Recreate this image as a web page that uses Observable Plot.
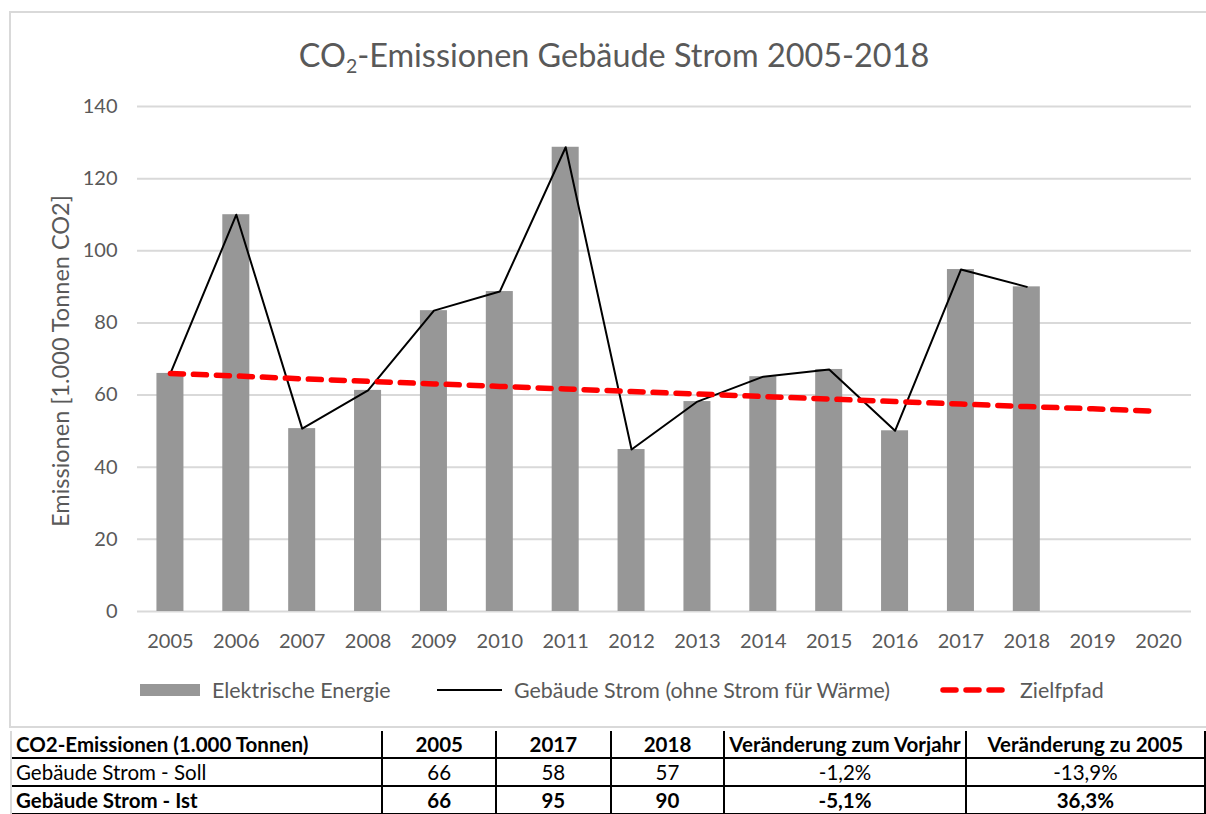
<!DOCTYPE html>
<html>
<head>
<meta charset="utf-8">
<script src="https://cdn.jsdelivr.net/npm/d3@7"></script>
<script src="https://cdn.jsdelivr.net/npm/@observablehq/plot@0.6"></script>
<style>
  html, body { margin: 0; padding: 0; background: #fff; }
  #wrap { position: relative; width: 1206px; height: 814px; overflow: hidden; font-family: Lato, "Open Sans", sans-serif; }
  #frame { position: absolute; left: 9px; top: 11px; width: 1220px; height: 717px; border: 2px solid #d9d9d9; box-sizing: border-box; }
  #chart { position: absolute; left: 0; top: 0; }
  #title { position: absolute; left: 0; top: 35px; width: 1228px; text-align: center; font-size: 32.4px; color: #595959; white-space: nowrap; }
  #title sub { font-size: 60%; vertical-align: -0.3em; line-height: 0; }
  #ylabel { position: absolute; left: 60px; top: 361px; transform: translate(-50%, -50%) rotate(-90deg); font-size: 23.5px; color: #595959; white-space: nowrap; }
  .leg { position: absolute; top: 677px; height: 26px; display: flex; align-items: center; font-size: 21.4px; color: #595959; white-space: nowrap; }
  .leg svg { margin-right: 12px; }
  #tbl { position: absolute; left: 10px; top: 731px; border-collapse: collapse; font-family: Lato, "Open Sans", sans-serif; font-size: 20.5px; color: #000; table-layout: fixed; }
  #tbl td { height: 26px; padding: 0 4px; border-left: 2px solid #000; border-right: 2px solid #000; white-space: nowrap; text-align: center; line-height: 26px; }
  #tbl td:first-child { text-align: left; border-left: 2px solid #d9d9d9; }
  #tbl tr { border-bottom: 2px solid #000; }
  #tbl tr:first-child { border-top: 2px solid #d9d9d9; }
  #tbl tr.b td { font-weight: bold; }
</style>
</head>
<body>
<div id="wrap">
  <div id="frame"></div>
  <div id="chart"></div>
  <div id="title"></div>
  <div id="ylabel"></div>
  <div id="legend"></div>
  <table id="tbl"></table>
</div>
<script>
// ---------- data ----------
const years = ["2005","2006","2007","2008","2009","2010","2011","2012","2013","2014","2015","2016","2017","2018","2019","2020"];
const barYears = ["2005","2006","2007","2008","2009","2010","2011","2012","2013","2014","2015","2016","2017","2018"];
const elektrischeEnergie = [66, 110, 50.7, 61.3, 83.4, 88.7, 128.7, 44.9, 58.2, 65.1, 67.1, 50.1, 94.8, 90.0];
const gebaeudeStrom = [66, 110, 50.7, 61.3, 83.4, 88.7, 128.7, 44.9, 58.2, 65.1, 67.1, 50.1, 94.8, 90.0];
const zielpfad = [66, 65.3, 64.5, 63.8, 63.1, 62.4, 61.7, 61.0, 60.3, 59.6, 58.9, 58.2, 57.5, 56.8, 56.2, 55.5];
const yTicks = [0, 20, 40, 60, 80, 100, 120, 140];

const titleMain = "CO";
const titleRest = "-Emissionen Gebäude Strom 2005-2018";
const yLabel = "Emissionen [1.000 Tonnen CO2]";
const legendLabels = ["Elektrische Energie", "Gebäude Strom (ohne Strom für Wärme)", "Zielfpfad"];

const tableHeader = ["CO2-Emissionen (1.000 Tonnen)", "2005", "2017", "2018", "Veränderung zum Vorjahr", "Veränderung zu 2005"];
const tableSoll = ["Gebäude Strom - Soll", "66", "58", "57", "-1,2%", "-13,9%"];
const tableIst = ["Gebäude Strom - Ist", "66", "95", "90", "-5,1%", "36,3%"];
const tableColWidths = [373, 115, 116, 115, 239, 240];

// ---------- colors ----------
const barColor = "#979797";
const lineColor = "#000000";
const targetColor = "#ff0000";
const textColor = "#595959";
const gridColor = "#d9d9d9";

const barData = barYears.map((y, i) => ({year: y, value: elektrischeEnergie[i]}));
const lineData = barYears.map((y, i) => ({year: y, value: gebaeudeStrom[i]}));
const targetData = years.map((y, i) => ({year: y, value: zielpfad[i]}));

const chart = Plot.plot({
  width: 1206,
  height: 720,
  marginTop: 106,
  marginBottom: 109,
  marginLeft: 137,
  marginRight: 15,
  style: {fontFamily: "Lato, 'Open Sans', sans-serif", fontSize: "20px", color: textColor, background: "transparent", overflow: "visible"},
  x: {type: "band", domain: years, paddingInner: 0.59, paddingOuter: 0.295, align: 0.5, round: false, label: null},
  y: {domain: [0, 140], label: null},
  marks: [
    Plot.gridY(yTicks, {stroke: gridColor, strokeOpacity: 1, strokeWidth: 2}),
    Plot.barY(barData, {x: "year", y: "value", fill: barColor}),
    Plot.line(lineData, {x: "year", y: "value", stroke: lineColor, strokeWidth: 2}),
    Plot.line(targetData, {x: "year", y: "value", stroke: targetColor, strokeWidth: 5.5, strokeDasharray: "13,10", strokeLinecap: "round"}),
    Plot.axisX({tickSize: 0, tickPadding: 22, fontSize: 20, fill: textColor, label: null}),
    Plot.axisY(yTicks, {tickSize: 0, tickPadding: 20, fontSize: 20, fill: textColor, label: null})
  ]
});
document.getElementById("chart").appendChild(chart);

// title
const t = document.getElementById("title");
t.innerHTML = "";
t.append(titleMain);
const sub = document.createElement("sub"); sub.textContent = "2"; t.append(sub);
t.append(titleRest);

document.getElementById("ylabel").textContent = yLabel;

// legend
const legend = document.getElementById("legend");
const legendLeft = [140, 437, 940];
const swatches = [
  `<svg width="60" height="14"><rect x="0" y="1" width="60" height="12" fill="${barColor}"/></svg>`,
  `<svg width="65" height="14"><line x1="0" x2="65" y1="7" y2="7" stroke="${lineColor}" stroke-width="2"/></svg>`,
  `<svg width="68" height="14"><line x1="3" x2="63" y1="7" y2="7" stroke="${targetColor}" stroke-width="5.5" stroke-dasharray="13,10" stroke-linecap="round"/></svg>`
];
legendLabels.forEach((lab, i) => {
  const d = document.createElement("div");
  d.className = "leg";
  d.style.left = legendLeft[i] + "px";
  d.innerHTML = swatches[i];
  const s = document.createElement("span"); s.textContent = lab; d.append(s);
  legend.append(d);
});

// table
const tbl = document.getElementById("tbl");
const cg = document.createElement("colgroup");
tableColWidths.forEach(w => { const c = document.createElement("col"); c.style.width = w + "px"; cg.append(c); });
tbl.append(cg);
[[tableHeader, true], [tableSoll, false], [tableIst, true]].forEach(([row, bold]) => {
  const tr = document.createElement("tr");
  if (bold) tr.className = "b";
  row.forEach(v => { const td = document.createElement("td"); td.textContent = v; tr.append(td); });
  tbl.append(tr);
});
</script>
</body>
</html>
